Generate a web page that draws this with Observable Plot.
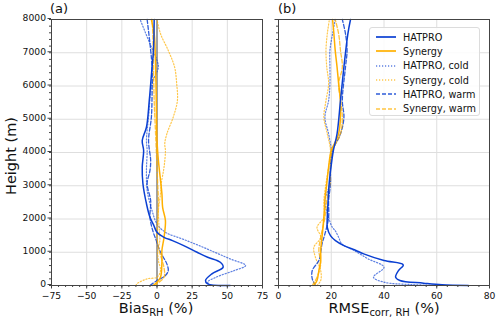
<!DOCTYPE html>
<html>
<head>
<meta charset="utf-8">
<script src="https://cdn.jsdelivr.net/npm/d3@7"></script>
<script src="https://cdn.jsdelivr.net/npm/@observablehq/plot@0.6"></script>
<style>
  html, body { margin: 0; padding: 0; background: #fff; }
  #wrap { position: relative; width: 500px; height: 321px; font-family: "DejaVu Sans", sans-serif; color: #111; overflow: hidden; }
  #wrap > .panel { position: absolute; top: 0; }
  .lbl { position: absolute; white-space: nowrap; font-size: 14.5px; }
  .lbl sub { font-size: 10px; vertical-align: -3px; line-height: 0; }
  .ttl { position: absolute; font-size: 13px; }
  #legend { position: absolute; left: 369px; top: 27px; width: 111px; height: 89px; border: 1px solid #dcdcdc; border-radius: 3px; background: rgba(255,255,255,0.85); box-sizing: border-box; padding: 2px 0 0 5px; }
  .li { display: flex; align-items: center; height: 14.3px; font-size: 9.7px; white-space: nowrap; }
  .li svg { margin-right: 6px; flex: none; }
</style>
</head>
<body>
<div id="wrap"></div>
<script>
// ---------- tick values ----------
const yTicks = [0, 1000, 2000, 3000, 4000, 5000, 6000, 7000, 8000];
const yMinor = d3.range(0, 8001, 200);
const xTicksA = [-75, -50, -25, 0, 25, 50, 75];
const xMinorA = d3.range(-75, 76, 5);
const xTicksB = [0, 20, 40, 60, 80];
const xMinorB = d3.range(0, 81, 4);

// ---------- series names ----------
const seriesNames = ["HATPRO", "Synergy", "HATPRO, cold", "Synergy, cold", "HATPRO, warm", "Synergy, warm"];

// ---------- panel (a): Bias RH (%) vs height (m) ----------
const hatproBiasH = [0, 50, 150, 350, 550, 700, 850, 1000, 1200, 1350, 1450, 1600, 1830, 2050, 2460, 3060, 3560, 4060, 4360, 4760, 5560, 6570, 7070, 8000];
const hatproBiasV = [52, 36, 34.5, 39, 47, 45, 36, 28.5, 19, 11, 5, 0, -2.5, -5, -7.5, -10, -10.5, -9.5, -10.5, -7.5, -5.5, -3.5, -2.5, -2];

const synergyBiasH = [0, 100, 250, 700, 1060, 1450, 1950, 2350, 2760, 3160, 3760, 4360, 5560, 6570, 7570, 8000];
const synergyBiasV = [-3, 0, 2.5, 3.5, 3.5, 5, 6, 4, 3.5, 2.5, 1, 0, -0.5, -1, -2, -4];

const hatproColdBiasH = [0, 100, 250, 450, 600, 800, 1000, 1200, 1400, 1600, 1850, 2250, 2860, 3460, 4060, 4360, 5060, 6070, 6570, 6770, 7270, 8000];
const hatproColdBiasV = [38, 36, 42, 55, 63, 52, 41, 30, 18, 6, 0, -3.5, -7, -7.5, -7, -7.5, -6, -3.5, 1, 0, -5, -12];

const synergyColdBiasH = [0, 60, 200, 250, 450, 750, 1060, 1350, 1750, 2250, 2760, 3060, 3560, 4060, 4260, 4560, 5060, 5560, 6070, 6570, 7070, 7570, 8000];
const synergyColdBiasV = [-15, -14, -7, 0, 2.5, 1, 0.5, 2, 1.5, 1, 2.5, 3, 5, 6, 5.5, 7, 11.5, 14.5, 14, 12.5, 8, 2.5, 0];

const hatproWarmBiasH = [0, 150, 300, 450, 650, 850, 1050, 1350, 1650, 2050, 2550, 3060, 3460, 3760, 4360, 5060, 5770, 6570, 7270, 8000];
const hatproWarmBiasV = [-5, 0, 6, 8, 7, 4.5, 2, -0.5, -3, -5, -4.5, -7, -5, -4.5, -6, -4, -3.5, -3.5, -5, -7];

const synergyWarmBiasH = [0, 250, 530, 1060, 1450, 1950, 2550, 3060, 3560, 4560, 5560, 6570, 7570, 8000];
const synergyWarmBiasV = [-2, 5, 5, 1.5, 0, 0.5, 1, 0.5, 0, -1, -2, -2.5, -3, -3.5];

// ---------- panel (b): RMSE corr, RH (%) vs height (m) ----------
const hatproRmseH = [0, 20, 70, 150, 250, 450, 620, 750, 950, 1060, 1200, 1350, 1500, 1750, 2050, 2550, 3060, 3560, 4060, 4560, 5560, 6570, 7570, 8000];
const hatproRmseV = [72, 62, 55, 46, 44.4, 45.5, 47.3, 40, 32.3, 29.2, 24.8, 21.6, 19.7, 18.5, 18.5, 18.8, 19.2, 19.9, 20.8, 22.2, 23.5, 24.8, 26.3, 27.3];

const synergyRmseH = [0, 150, 450, 750, 1060, 1450, 2050, 2550, 3060, 3560, 4060, 4560, 5560, 6070, 6570, 7070, 7570, 8000];
const synergyRmseV = [13.4, 14.6, 15.3, 16, 16, 16.5, 17.2, 17.6, 18.3, 19, 20, 22.8, 23.5, 22.8, 22.2, 21.5, 21, 20.5];

const hatproColdRmseH = [0, 30, 100, 250, 550, 800, 1060, 1250, 1450, 1650, 1750, 2050, 2550, 3060, 3560, 4060, 4560, 5060, 5560, 6070, 6570, 7070, 7570, 8000];
const hatproColdRmseV = [62, 50, 40, 36, 40, 34, 28.5, 24, 22.8, 21.5, 20.4, 19, 17.6, 19.5, 19.7, 20, 19, 17.6, 19, 19.5, 19.5, 19.5, 20.5, 21.5];

const synergyColdRmseH = [0, 150, 450, 850, 1150, 1450, 1750, 2050, 2550, 3060, 3560, 4060, 4560, 5060, 5560, 6070, 6570, 7070, 7570, 8000];
const synergyColdRmseV = [14.6, 16, 16, 14, 13.4, 16, 14.6, 17.2, 17.2, 18, 19, 19.7, 18.5, 17.2, 18, 19, 18.3, 18, 18.5, 19.3];

const hatproWarmRmseH = [0, 200, 450, 750, 1000, 1250, 1550, 2050, 2550, 3060, 3560, 4060, 4560, 5060, 5560, 6570, 7070, 7570, 8000];
const hatproWarmRmseV = [14, 12.8, 12.8, 15.3, 16, 16.5, 17.6, 19, 19, 19.7, 19.7, 20.5, 23.5, 24.8, 24.2, 25.4, 26, 25.4, 24.2];

const synergyWarmRmseH = [0, 250, 650, 1060, 1450, 2050, 2550, 3060, 3560, 4060, 4560, 5060, 5560, 6070, 6570, 7070, 7570, 8000];
const synergyWarmRmseV = [12.8, 14.6, 16, 15.3, 16, 17.6, 18.3, 19.5, 19.7, 20.5, 23.5, 24.2, 23.5, 22.8, 24.2, 23.5, 22.8, 21.5];

// ---------- styles ----------
const BLUE = "#0a3fd2";
const ORANGE = "#ffb000";
const styles = [
  {stroke: BLUE, strokeWidth: 1.5, strokeOpacity: 1, dash: null},
  {stroke: ORANGE, strokeWidth: 1.5, strokeOpacity: 1, dash: null},
  {stroke: BLUE, strokeWidth: 1.2, strokeOpacity: 0.65, dash: "1.2,1.8"},
  {stroke: ORANGE, strokeWidth: 1.2, strokeOpacity: 0.7, dash: "1.2,1.8"},
  {stroke: BLUE, strokeWidth: 1.3, strokeOpacity: 0.85, dash: "4,2"},
  {stroke: ORANGE, strokeWidth: 1.3, strokeOpacity: 0.75, dash: "4,2"}
];

const pair = (hs, vs) => hs.map((h, i) => ({h, v: vs[i]}));
const seriesA = [
  pair(hatproBiasH, hatproBiasV), pair(synergyBiasH, synergyBiasV),
  pair(hatproColdBiasH, hatproColdBiasV), pair(synergyColdBiasH, synergyColdBiasV),
  pair(hatproWarmBiasH, hatproWarmBiasV), pair(synergyWarmBiasH, synergyWarmBiasV)
];
const seriesB = [
  pair(hatproRmseH, hatproRmseV), pair(synergyRmseH, synergyRmseV),
  pair(hatproColdRmseH, hatproColdRmseV), pair(synergyColdRmseH, synergyColdRmseV),
  pair(hatproWarmRmseH, hatproWarmRmseV), pair(synergyWarmRmseH, synergyWarmRmseV)
];
// draw order: dotted/dashed first, solid on top
const order = [2, 3, 4, 5, 1, 0];
const lineMarks = (series) => order.map(i => Plot.line(series[i], {
  x: "v", y: "h", curve: "catmull-rom",
  stroke: styles[i].stroke, strokeWidth: styles[i].strokeWidth,
  strokeOpacity: styles[i].strokeOpacity, strokeDasharray: styles[i].dash
}));

const GRID = "#dedede";
const SPINE = "#444";
const fmt = d => d3.format("")(d).replace("-", "\u2212");

const common = {
  height: 300, marginTop: 19, marginBottom: 15,
  style: {fontFamily: "DejaVu Sans, sans-serif", fontSize: "9.2px", color: "#111", background: "transparent", overflow: "visible"},
  y: {domain: [0, 8000]}
};

const plotA = Plot.plot({
  ...common,
  width: 270, marginLeft: 51, marginRight: 8,
  x: {domain: [-75, 75]},
  marks: [
    Plot.gridX(xTicksA, {stroke: GRID, strokeOpacity: 1}),
    Plot.gridY(yTicks, {stroke: GRID, strokeOpacity: 1}),
    Plot.ruleX([0], {stroke: "#555", strokeWidth: 1}),
    ...lineMarks(seriesA),
    Plot.frame({stroke: SPINE}),
    Plot.axisX(xMinorA, {tickSize: 2, tickFormat: () => "", label: null, stroke: SPINE}),
    Plot.axisX(xTicksA, {tickSize: 3.5, tickPadding: 3, tickFormat: fmt, label: null, stroke: SPINE}),
    Plot.axisY(yMinor, {tickSize: 2, tickFormat: () => "", label: null, stroke: SPINE}),
    Plot.axisY(yTicks, {tickSize: 3.5, tickPadding: 2, tickFormat: fmt, label: null, stroke: SPINE, dy: -1})
  ]
});

const plotB = Plot.plot({
  ...common,
  width: 230, marginLeft: 8, marginRight: 11,
  x: {domain: [0, 80]},
  marks: [
    Plot.gridX(xTicksB, {stroke: GRID, strokeOpacity: 1}),
    Plot.gridY(yTicks, {stroke: GRID, strokeOpacity: 1}),
    ...lineMarks(seriesB),
    Plot.frame({stroke: SPINE}),
    Plot.axisX(xMinorB, {tickSize: 2, tickFormat: () => "", label: null, stroke: SPINE}),
    Plot.axisX(xTicksB, {tickSize: 3.5, tickPadding: 3, tickFormat: fmt, label: null, stroke: SPINE}),
    Plot.axisY(yMinor, {tickSize: 2, tickFormat: () => "", label: null, stroke: SPINE}),
    Plot.axisY(yTicks, {tickSize: 3.5, tickFormat: () => "", label: null, stroke: SPINE})
  ]
});

const wrap = document.getElementById("wrap");
plotA.classList.add("panel"); plotA.style.left = "0px";
plotB.classList.add("panel"); plotB.style.left = "270px";
wrap.appendChild(plotA);
wrap.appendChild(plotB);

function addDiv(cls, html, css) {
  const d = document.createElement("div");
  d.className = cls; d.innerHTML = html;
  Object.assign(d.style, css);
  wrap.appendChild(d);
  return d;
}
addDiv("ttl", "(a)", {left: "50px", top: "1px"});
addDiv("ttl", "(b)", {left: "278px", top: "1px"});
addDiv("lbl", "Height (m)", {left: "11px", top: "156px", transform: "translate(-50%,-50%) rotate(-90deg)"});
addDiv("lbl", "Bias<sub>RH</sub> (%)", {left: "156px", top: "300px", transform: "translateX(-50%)"});
addDiv("lbl", "RMSE<sub>corr, RH</sub> (%)", {left: "384px", top: "300px", transform: "translateX(-50%)"});

// legend
const legend = document.createElement("div");
legend.id = "legend";
seriesNames.forEach((name, i) => {
  const s = styles[i];
  const row = document.createElement("div");
  row.className = "li";
  row.innerHTML = `<svg width="22" height="8"><line x1="1" y1="4" x2="21" y2="4" stroke="${s.stroke}" stroke-width="${s.strokeWidth + 0.2}" stroke-opacity="${s.strokeOpacity}" ${s.dash ? `stroke-dasharray="${s.dash}"` : ""}/></svg><span>${name}</span>`;
  legend.appendChild(row);
});
wrap.appendChild(legend);
</script>
</body>
</html>
